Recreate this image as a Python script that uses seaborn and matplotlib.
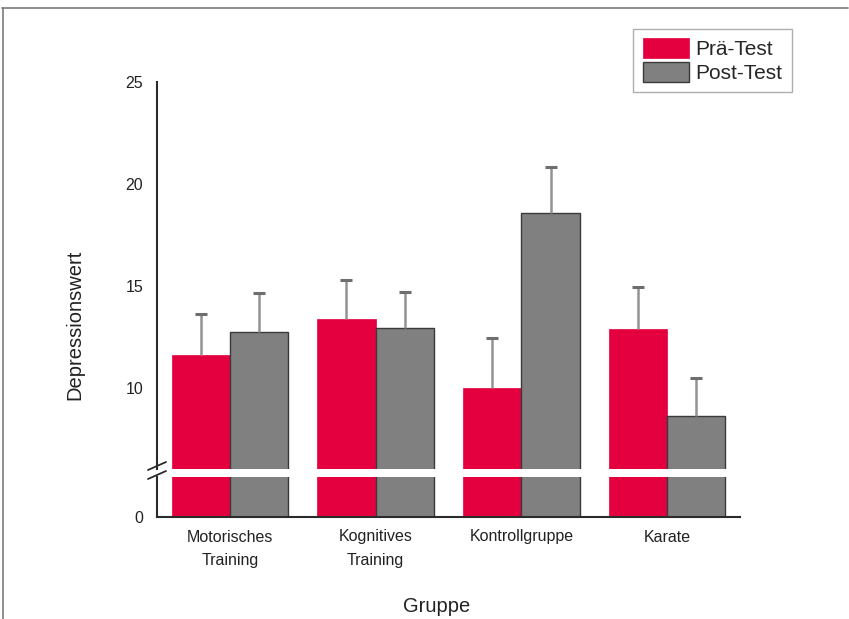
import numpy as np
import pandas as pd
import matplotlib
matplotlib.use("Agg")
import matplotlib.pyplot as plt
import seaborn as sns
from matplotlib.patches import Patch
from matplotlib.lines import Line2D

# data
groups = ["Motorisches\nTraining", "Kognitives\nTraining", "Kontrollgruppe", "Karate"]
tests = ["Prä-Test", "Post-Test"]
pre_mean = [11.6, 13.4, 10.0, 12.9]
post_mean = [12.75, 12.95, 18.6, 8.65]
pre_err = [2.05, 1.9, 2.45, 2.05]
post_err = [1.9, 1.75, 2.25, 1.85]

df = pd.DataFrame({
    "Gruppe": groups * 2,
    "Test": [tests[0]] * 4 + [tests[1]] * 4,
    "Wert": pre_mean + post_mean,
})
errs = {tests[0]: pre_err, tests[1]: post_err}

pink = "#E4003F"
grey = "#808080"
palette = {tests[0]: pink, tests[1]: grey}

sns.set_style("white")
plt.rcParams["font.family"] = ["Liberation Sans", "DejaVu Sans"]

W, H = 849, 619
fig = plt.figure(figsize=(W / 100, H / 100), dpi=100)

# broken y axis: upper part 6..25, lower part 0..~2
left, right = 157, 740
ax_top = fig.add_axes([left / W, 1 - 469 / H, (right - left) / W, (469 - 82) / H])
ax_bot = fig.add_axes([left / W, 1 - 517 / H, (right - left) / W, (517 - 477) / H])

for ax in (ax_top, ax_bot):
    sns.barplot(data=df, x="Gruppe", y="Wert", hue="Test", hue_order=tests,
                order=groups, palette=palette, errorbar=None, width=0.8,
                saturation=1, ax=ax, legend=False)
    for cont, t in zip(ax.containers, tests):
        for bar in cont:
            if t == tests[1]:
                bar.set_edgecolor("#3a3a3a")
                bar.set_linewidth(1.0)
            else:
                bar.set_edgecolor(pink)
                bar.set_linewidth(0.5)
    ax.set_xlim(-0.5, 3.5)
    ax.set_xlabel("")
    ax.set_ylabel("")
    for s in ("top", "right"):
        ax.spines[s].set_visible(False)
    ax.spines["left"].set_color("#2b2b2b")
    ax.spines["left"].set_linewidth(1.5)
    ax.tick_params(axis="y", direction="out", length=7, width=1.2,
                   color="#2b2b2b", labelsize=11.5, labelcolor="#222222", pad=3)

# error bars (upper side only) on the top axes
for cont, t in zip(ax_top.containers, tests):
    xs = np.array([b.get_x() + b.get_width() / 2 for b in cont])
    hs = np.array([b.get_height() for b in cont])
    tops = hs + np.array(errs[t])
    ax_top.vlines(xs, hs, tops, colors="#939393", linewidth=1.8, zorder=3)
    ax_top.plot(xs, tops, linestyle="none", marker="_", markersize=8,
                markeredgewidth=2.2, color="#6e6e6e", zorder=4)

ax_top.set_ylim(6.03, 25)
ax_top.set_yticks([10, 15, 20, 25])
ax_top.spines["bottom"].set_visible(False)
ax_top.tick_params(axis="x", bottom=False, labelbottom=False)

ax_bot.set_ylim(0, 1.96)
ax_bot.set_yticks([0])
ax_bot.spines["bottom"].set_color("#2b2b2b")
ax_bot.spines["bottom"].set_linewidth(1.5)
ax_bot.tick_params(axis="x", length=0, labelsize=11.5, labelcolor="#222222", pad=9)
for lab in ax_bot.get_xticklabels():
    lab.set_linespacing(1.75)
    lab.set_verticalalignment("top")

# break marks on the y axis
for yc in (466, 475):
    fig.add_artist(Line2D([(left - 9) / W, (left + 9) / W],
                          [1 - (yc + 4) / H, 1 - (yc - 4) / H],
                          color="#2b2b2b", lw=1.3))

fig.text(75 / W, 1 - 325 / H, "Depressionswert", rotation=90,
         ha="center", va="center", fontsize=14.5, color="#222222")
fig.text(437 / W, 1 - 606 / H, "Gruppe", ha="center", va="center",
         fontsize=14.5, color="#222222")

handles = [Patch(facecolor=pink, edgecolor=pink, lw=0.5),
           Patch(facecolor=grey, edgecolor="#3a3a3a", lw=1.0)]
leg = fig.legend(handles, tests, loc="upper right",
                 bbox_to_anchor=(792 / W, 1 - 29 / H), fontsize=15,
                 frameon=True, fancybox=False, edgecolor="#9a9a9a",
                 handlelength=2.25, handleheight=1.05, labelspacing=0.15,
                 borderpad=0.45, handletextpad=0.3, borderaxespad=0)
leg.get_frame().set_linewidth(1.0)

# outer frame of the figure (top and left edges)
fig.add_artist(Line2D([2 / W, 848 / W], [1 - 8 / H, 1 - 8 / H], color="#7a7a7a", lw=1.2))
fig.add_artist(Line2D([3 / W, 3 / W], [0, 1 - 8 / H], color="#7a7a7a", lw=1.2))

fig.savefig("out.png", dpi=100)
